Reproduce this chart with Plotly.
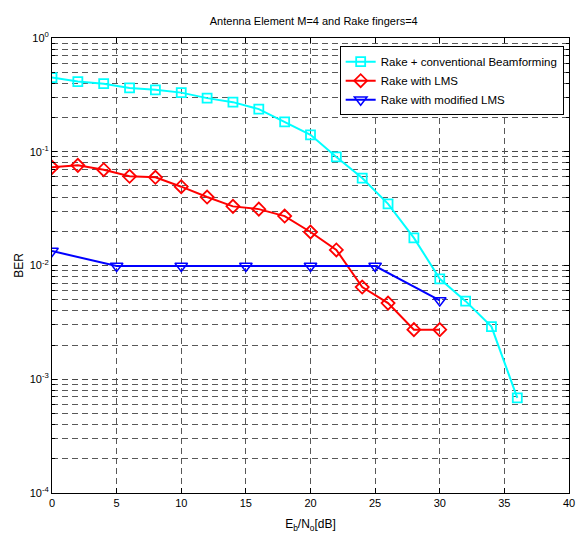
import plotly.graph_objects as go

x_conv = [0, 2, 4, 6, 8, 10, 12, 14, 16, 18, 20, 22, 24, 26, 28, 30, 32, 34, 36]
ber_conv = [0.449, 0.414, 0.397, 0.364, 0.350, 0.331, 0.296, 0.273, 0.237, 0.183, 0.141,
            0.090, 0.0587, 0.0348, 0.0175, 0.00764, 0.00486, 0.0029, 0.000686]

x_lms = [0, 2, 4, 6, 8, 10, 12, 14, 16, 18, 20, 22, 24, 26, 28, 30]
ber_lms = [0.0729, 0.0759, 0.0695, 0.0608, 0.0596, 0.0493, 0.0400, 0.0331, 0.0313, 0.0272,
           0.0197, 0.0137, 0.00646, 0.00467, 0.00273, 0.00273]

x_mlms = [0, 5, 10, 15, 20, 25, 30]
ber_mlms = [0.0134, 0.0099, 0.0099, 0.0099, 0.0099, 0.0099, 0.00493]

x_ticks = [0, 5, 10, 15, 20, 25, 30, 35, 40]
y_ticks = [1e0, 1e-1, 1e-2, 1e-3, 1e-4]
y_ticktext = ["10<sup>0</sup>", "10<sup>-1</sup>", "10<sup>-2</sup>", "10<sup>-3</sup>", "10<sup>-4</sup>"]

fig = go.Figure()
fig.add_trace(go.Scatter(x=x_conv, y=ber_conv, mode="lines+markers",
                         name="Rake + conventional Beamforming",
                         line=dict(color="#00FFFF", width=2),
                         marker=dict(symbol="square-open", size=9, color="#00FFFF", line=dict(width=1.8))))
fig.add_trace(go.Scatter(x=x_lms, y=ber_lms, mode="lines+markers",
                         name="Rake with LMS",
                         line=dict(color="#FF0000", width=2),
                         marker=dict(symbol="diamond-open", size=10, color="#FF0000", line=dict(width=1.8))))
fig.add_trace(go.Scatter(x=x_mlms, y=ber_mlms, mode="lines+markers",
                         name="Rake with modified LMS",
                         line=dict(color="#0000FF", width=2),
                         marker=dict(symbol="triangle-down-open", size=11, color="#0000FF", line=dict(width=1.5))))

gridc = "rgba(70,70,70,0.9)"
fig.update_layout(
    width=581, height=535,
    margin=dict(l=52, r=6, t=38, b=41),
    paper_bgcolor="white", plot_bgcolor="white",
    font=dict(family="Liberation Sans, Arial, sans-serif", size=11, color="black"),
    title=dict(text="Antenna Element M=4 and Rake fingers=4", x=0.54, xanchor="center",
               y=0.961, yanchor="middle", font=dict(size=11)),
    showlegend=True,
    legend=dict(x=0.9897, y=0.982, xanchor="right", yanchor="top",
                bordercolor="black", borderwidth=1, bgcolor="white",
                font=dict(size=11.5), tracegroupgap=0, itemwidth=30),
    xaxis=dict(range=[0, 40], tickvals=x_ticks, showgrid=True, gridcolor=gridc, griddash="6px,4px",
               gridwidth=1, showline=True, linecolor="black", linewidth=1, mirror="ticks",
               ticks="inside", ticklen=5, tickcolor="black", zeroline=False,
               ticklabeloverflow="allow",
               title=dict(text="E<sub>b</sub>/N<sub>o</sub>[dB]", standoff=11, font=dict(size=12))),
    yaxis=dict(type="log", range=[-4, 0], tickvals=y_ticks, ticktext=y_ticktext,
               showgrid=True, gridcolor=gridc, griddash="6px,4px", gridwidth=1,
               showline=True, linecolor="black", linewidth=1, mirror="ticks",
               ticks="inside", ticklen=5, tickcolor="black", zeroline=False,
               ticklabeloverflow="allow",
               minor=dict(showgrid=True, gridcolor=gridc, griddash="6px,4px", gridwidth=1,
                          ticks="inside", ticklen=3, tickcolor="black", dtick="D1"),
               title=dict(text="BER", standoff=3, font=dict(size=12))),
)
fig.write_html("out.html", config={"displayModeBar": False},
               post_script="document.body.style.margin='0';document.body.style.padding='0';")
